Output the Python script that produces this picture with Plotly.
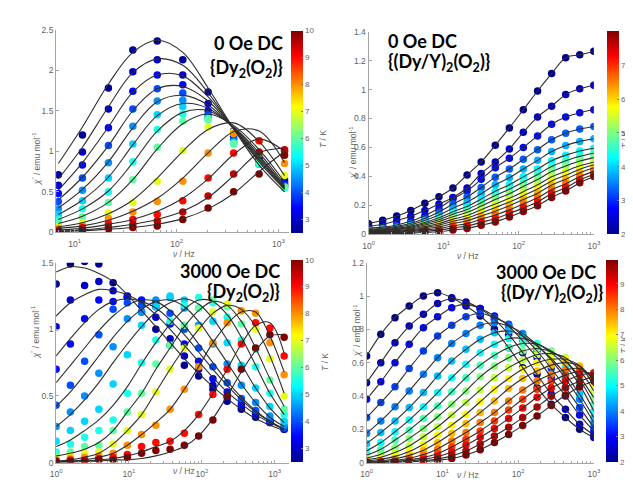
import plotly.graph_objects as go

W, H = 633, 486

# ---------------- Panel A: 0 Oe DC, {Dy2(O2)} ----------------
freq_a = [6.9, 11.9, 21.4, 37.2, 64.6, 115, 204, 363, 646, 1148]
temp_a = [2.6, 3.0, 3.5, 4.0, 4.5, 5.0, 5.5, 6.0, 7.0, 8.0, 9.0, 9.5, 10.0]
chi_a = [
    [0.71, 1.20, 1.78, 2.25, 2.36, 2.13, 1.73, 1.25, 0.93, 0.65],
    [0.58, 0.99, 1.52, 1.98, 2.13, 1.94, 1.59, 1.22, 0.90, 0.62],
    [0.48, 0.83, 1.29, 1.74, 1.94, 1.82, 1.50, 1.18, 0.88, 0.60],
    [0.38, 0.67, 1.07, 1.52, 1.77, 1.72, 1.45, 1.15, 0.86, 0.58],
    [0.29, 0.52, 0.86, 1.31, 1.62, 1.63, 1.42, 1.12, 0.84, 0.56],
    [0.22, 0.39, 0.67, 1.09, 1.45, 1.55, 1.40, 1.10, 0.84, 0.55],
    [0.16, 0.29, 0.50, 0.87, 1.27, 1.46, 1.40, 1.09, 0.85, 0.55],
    [0.11, 0.19, 0.37, 0.65, 1.05, 1.37, 1.39, 1.10, 0.87, 0.56],
    [0.07, 0.12, 0.24, 0.37, 0.63, 1.01, 1.30, 1.24, 0.97, 0.70],
    [0.05, 0.08, 0.17, 0.25, 0.38, 0.63, 0.98, 1.22, 1.13, 0.85],
    [0.03, 0.06, 0.11, 0.16, 0.22, 0.39, 0.67, 0.98, 1.13, 1.00],
    [0.02, 0.03, 0.07, 0.10, 0.14, 0.25, 0.45, 0.72, 0.99, 1.02],
    [0.01, 0.02, 0.04, 0.06, 0.08, 0.16, 0.30, 0.50, 0.72, 0.95],
]
fit_a = [
    [0.85, 1.30, 1.83, 2.22, 2.37, 2.22, 1.78, 1.28, 0.83, 0.50],
    [0.66, 1.05, 1.55, 1.97, 2.14, 2.06, 1.72, 1.28, 0.87, 0.53],
    [0.52, 0.86, 1.30, 1.73, 1.94, 1.93, 1.67, 1.28, 0.89, 0.54],
    [0.40, 0.68, 1.07, 1.50, 1.77, 1.80, 1.62, 1.28, 0.91, 0.55],
    [0.30, 0.53, 0.87, 1.29, 1.61, 1.69, 1.57, 1.28, 0.93, 0.56],
    [0.22, 0.40, 0.68, 1.08, 1.44, 1.59, 1.53, 1.29, 0.95, 0.57],
    [0.16, 0.29, 0.51, 0.86, 1.25, 1.48, 1.50, 1.30, 0.98, 0.59],
    [0.11, 0.20, 0.37, 0.65, 1.03, 1.34, 1.46, 1.32, 1.02, 0.62],
    [0.07, 0.12, 0.23, 0.40, 0.67, 1.00, 1.27, 1.35, 1.12, 0.70],
    [0.05, 0.08, 0.15, 0.26, 0.42, 0.67, 0.98, 1.24, 1.25, 0.86],
    [0.03, 0.05, 0.10, 0.16, 0.26, 0.42, 0.66, 0.96, 1.15, 1.00],
    [0.02, 0.03, 0.06, 0.10, 0.16, 0.26, 0.43, 0.70, 0.98, 1.04],
    [0.01, 0.02, 0.04, 0.06, 0.10, 0.17, 0.29, 0.48, 0.75, 1.00],
]

# ---------------- Panel B: 0 Oe DC, {(Dy/Y)2(O2)} ----------------
freq_b = [1, 1.54, 2.37, 3.65, 5.62, 8.66, 13.3, 20.5, 31.6, 48.7, 75.0,
          115, 178, 274, 422, 649, 1000]
temp_b = [2.0, 2.4, 2.8, 3.3, 3.8, 4.2, 4.6, 5.0, 5.4, 5.8, 6.2, 6.6, 7.2, 7.9]
chi_b = [
    [0.074, 0.097, 0.126, 0.165, 0.214, 0.26, 0.32, 0.41, 0.50, 0.615, 0.735, 0.86, 0.99, 1.11, 1.22, 1.24, 1.265],
    [0.055, 0.07, 0.095, 0.125, 0.165, 0.21, 0.255, 0.32, 0.42, 0.50, 0.59, 0.705, 0.81, 0.885, 0.965, 1.005, 1.03],
    [0.042, 0.05, 0.065, 0.09, 0.13, 0.18, 0.245, 0.30, 0.38, 0.46, 0.525, 0.60, 0.68, 0.76, 0.81, 0.84, 0.86],
    [0.036, 0.042, 0.056, 0.077, 0.110, 0.154, 0.209, 0.258, 0.324, 0.395, 0.451, 0.518, 0.585, 0.653, 0.698, 0.727, 0.745],
    [0.031, 0.037, 0.048, 0.066, 0.095, 0.133, 0.181, 0.222, 0.281, 0.342, 0.391, 0.451, 0.511, 0.572, 0.614, 0.642, 0.66],
    [0.027, 0.032, 0.041, 0.057, 0.082, 0.114, 0.156, 0.192, 0.244, 0.298, 0.343, 0.397, 0.451, 0.508, 0.547, 0.576, 0.595],
    [0.024, 0.028, 0.036, 0.050, 0.073, 0.101, 0.139, 0.171, 0.219, 0.268, 0.311, 0.362, 0.413, 0.469, 0.508, 0.539, 0.56],
    [0.021, 0.024, 0.032, 0.044, 0.064, 0.089, 0.122, 0.152, 0.195, 0.240, 0.281, 0.330, 0.378, 0.434, 0.472, 0.506, 0.53],
    [0.018, 0.021, 0.027, 0.037, 0.054, 0.075, 0.105, 0.130, 0.170, 0.210, 0.249, 0.295, 0.342, 0.397, 0.436, 0.473, 0.50],
    [0.015, 0.017, 0.022, 0.031, 0.046, 0.064, 0.090, 0.112, 0.148, 0.185, 0.223, 0.267, 0.313, 0.369, 0.408, 0.449, 0.48],
    [0.012, 0.014, 0.017, 0.025, 0.038, 0.052, 0.075, 0.094, 0.127, 0.160, 0.197, 0.240, 0.284, 0.340, 0.381, 0.426, 0.46],
    [0.010, 0.011, 0.013, 0.019, 0.030, 0.040, 0.059, 0.074, 0.104, 0.134, 0.169, 0.210, 0.252, 0.308, 0.350, 0.398, 0.435],
    [0.007, 0.008, 0.009, 0.013, 0.022, 0.029, 0.044, 0.057, 0.083, 0.109, 0.144, 0.183, 0.224, 0.281, 0.323, 0.375, 0.415],
    [0.005, 0.005, 0.005, 0.007, 0.014, 0.018, 0.030, 0.040, 0.063, 0.086, 0.120, 0.158, 0.198, 0.255, 0.300, 0.356, 0.40],
]

# ---------------- Panel C: 3000 Oe DC, {Dy2(O2)} ----------------
freq_c = [1, 1.57, 2.46, 3.86, 6.06, 9.5, 14.9, 23.4, 36.7, 57.6, 90.4,
          142, 223, 349, 548, 860, 1350]
temp_c = [2.5, 3.0, 3.5, 4.0, 4.5, 5.0, 5.5, 6.0, 7.0, 8.0, 9.0, 10.0]
chi_c = [
    [1.34, 1.49, 1.51, 1.49, 1.35, 1.24, 1.13, 1.00, 0.88, 0.73, 0.65, 0.55, 0.46, 0.40, 0.34, 0.30, 0.25],
    [1.02, 1.22, 1.33, 1.36, 1.29, 1.25, 1.18, 1.09, 0.93, 0.80, 0.70, 0.58, 0.49, 0.42, 0.36, 0.30, 0.25],
    [0.70, 0.89, 1.08, 1.22, 1.21, 1.24, 1.22, 1.17, 1.04, 0.89, 0.76, 0.63, 0.53, 0.44, 0.37, 0.31, 0.26],
    [0.43, 0.58, 0.76, 0.96, 1.15, 1.20, 1.18, 1.20, 1.12, 1.00, 0.86, 0.72, 0.60, 0.48, 0.39, 0.32, 0.26],
    [0.27, 0.38, 0.50, 0.67, 0.87, 1.08, 1.13, 1.22, 1.24, 1.16, 1.03, 0.89, 0.74, 0.58, 0.45, 0.35, 0.28],
    [0.16, 0.24, 0.31, 0.40, 0.59, 0.81, 1.03, 1.17, 1.25, 1.22, 1.16, 1.06, 0.90, 0.73, 0.56, 0.42, 0.31],
    [0.08, 0.14, 0.19, 0.24, 0.32, 0.52, 0.75, 0.92, 1.06, 1.18, 1.24, 1.20, 1.09, 0.92, 0.72, 0.52, 0.36],
    [0.05, 0.08, 0.12, 0.13, 0.24, 0.38, 0.52, 0.74, 0.88, 1.03, 1.16, 1.22, 1.17, 1.04, 0.85, 0.62, 0.40],
    [0.03, 0.05, 0.07, 0.08, 0.14, 0.24, 0.36, 0.53, 0.70, 0.86, 1.01, 1.13, 1.19, 1.14, 1.00, 0.78, 0.50],
    [0.02, 0.03, 0.04, 0.05, 0.07, 0.13, 0.21, 0.28, 0.40, 0.55, 0.72, 0.90, 1.05, 1.14, 1.12, 0.90, 0.66],
    [0.01, 0.02, 0.02, 0.03, 0.04, 0.06, 0.12, 0.15, 0.16, 0.22, 0.36, 0.51, 0.70, 0.89, 1.05, 1.01, 0.80],
    [0.01, 0.01, 0.01, 0.02, 0.02, 0.04, 0.07, 0.09, 0.10, 0.13, 0.20, 0.32, 0.50, 0.70, 0.86, 0.96, 0.94],
]
fit_c = [
    [1.43, 1.47, 1.46, 1.42, 1.36, 1.26, 1.14, 1.02, 0.90, 0.78, 0.67, 0.57, 0.48, 0.40, 0.33, 0.28, 0.24],
    [1.10, 1.20, 1.26, 1.30, 1.29, 1.26, 1.20, 1.11, 1.00, 0.88, 0.76, 0.64, 0.53, 0.44, 0.36, 0.30, 0.25],
    [0.80, 0.93, 1.05, 1.15, 1.21, 1.23, 1.21, 1.16, 1.07, 0.96, 0.83, 0.70, 0.58, 0.47, 0.38, 0.31, 0.25],
    [0.60, 0.73, 0.86, 0.99, 1.10, 1.18, 1.22, 1.21, 1.14, 1.03, 0.89, 0.75, 0.61, 0.49, 0.39, 0.31, 0.25],
    [0.42, 0.53, 0.66, 0.80, 0.94, 1.06, 1.15, 1.21, 1.22, 1.17, 1.06, 0.91, 0.75, 0.59, 0.45, 0.34, 0.27],
    [0.27, 0.36, 0.47, 0.60, 0.75, 0.89, 1.02, 1.13, 1.20, 1.23, 1.19, 1.08, 0.92, 0.74, 0.56, 0.41, 0.30],
    [0.12, 0.17, 0.24, 0.32, 0.43, 0.57, 0.74, 0.90, 1.04, 1.15, 1.22, 1.21, 1.11, 0.94, 0.73, 0.52, 0.36],
    [0.05, 0.07, 0.10, 0.15, 0.24, 0.38, 0.52, 0.70, 0.86, 1.02, 1.14, 1.21, 1.18, 1.06, 0.86, 0.63, 0.42],
    [0.01, 0.02, 0.04, 0.07, 0.14, 0.24, 0.36, 0.53, 0.70, 0.86, 1.00, 1.12, 1.18, 1.15, 1.02, 0.80, 0.52],
    [0.01, 0.01, 0.02, 0.04, 0.07, 0.13, 0.21, 0.30, 0.40, 0.55, 0.72, 0.90, 1.04, 1.13, 1.13, 0.95, 0.68],
    [0.00, 0.01, 0.01, 0.02, 0.03, 0.05, 0.08, 0.12, 0.16, 0.24, 0.36, 0.52, 0.70, 0.89, 1.03, 1.05, 0.82],
    [0.00, 0.00, 0.01, 0.01, 0.02, 0.02, 0.03, 0.05, 0.08, 0.12, 0.20, 0.33, 0.50, 0.68, 0.84, 0.95, 0.96],
]

# ---------------- Panel D: 3000 Oe DC, {(Dy/Y)2(O2)} ----------------
freq_d = [1, 1.54, 2.37, 3.65, 5.62, 8.66, 13.3, 20.5, 31.6, 48.7, 75.0,
          115, 178, 274, 422, 649, 1000]
temp_d = [2.0, 2.5, 3.0, 3.5, 4.0, 4.5, 5.0, 5.5, 6.0, 6.5, 7.0, 7.5, 8.0,
          8.5, 9.0, 9.5, 10.0]
chi_d = [
    [0.64, 0.77, 0.87, 0.94, 1.00, 1.02, 0.99, 0.94, 0.88, 0.80, 0.69, 0.57, 0.45, 0.35, 0.27, 0.20, 0.15],
    [0.48, 0.60, 0.72, 0.82, 0.89, 0.955, 0.985, 0.965, 0.925, 0.86, 0.77, 0.66, 0.53, 0.41, 0.32, 0.23, 0.165],
    [0.38, 0.485, 0.60, 0.71, 0.81, 0.875, 0.93, 0.95, 0.925, 0.88, 0.82, 0.73, 0.63, 0.51, 0.40, 0.285, 0.19],
    [0.27, 0.36, 0.455, 0.565, 0.67, 0.76, 0.825, 0.875, 0.895, 0.87, 0.83, 0.76, 0.67, 0.565, 0.45, 0.33, 0.21],
    [0.175, 0.25, 0.335, 0.43, 0.53, 0.63, 0.715, 0.775, 0.825, 0.84, 0.82, 0.775, 0.705, 0.615, 0.505, 0.38, 0.24],
    [0.115, 0.18, 0.25, 0.33, 0.42, 0.52, 0.61, 0.68, 0.74, 0.78, 0.79, 0.76, 0.70, 0.625, 0.53, 0.41, 0.27],
    [0.07, 0.12, 0.185, 0.255, 0.335, 0.42, 0.51, 0.59, 0.66, 0.71, 0.745, 0.745, 0.715, 0.66, 0.58, 0.465, 0.31],
    [0.045, 0.08, 0.135, 0.195, 0.265, 0.34, 0.425, 0.51, 0.585, 0.645, 0.69, 0.715, 0.71, 0.67, 0.61, 0.50, 0.35],
    [0.027, 0.05, 0.09, 0.145, 0.205, 0.275, 0.35, 0.43, 0.515, 0.58, 0.63, 0.67, 0.685, 0.665, 0.61, 0.515, 0.39],
    [0.017, 0.032, 0.06, 0.10, 0.155, 0.215, 0.285, 0.36, 0.435, 0.51, 0.57, 0.615, 0.648, 0.654, 0.63, 0.555, 0.43],
    [0.01, 0.02, 0.037, 0.066, 0.11, 0.165, 0.225, 0.29, 0.365, 0.44, 0.505, 0.56, 0.60, 0.62, 0.62, 0.58, 0.46],
    [0.006, 0.011, 0.023, 0.043, 0.074, 0.12, 0.175, 0.235, 0.30, 0.37, 0.445, 0.505, 0.55, 0.585, 0.60, 0.58, 0.49],
    [0.004, 0.007, 0.014, 0.026, 0.048, 0.082, 0.13, 0.18, 0.24, 0.30, 0.37, 0.435, 0.49, 0.53, 0.557, 0.564, 0.505],
    [0.003, 0.004, 0.008, 0.017, 0.03, 0.055, 0.094, 0.14, 0.19, 0.25, 0.315, 0.38, 0.44, 0.487, 0.525, 0.547, 0.53],
    [0.002, 0.003, 0.005, 0.01, 0.019, 0.036, 0.064, 0.105, 0.152, 0.205, 0.264, 0.327, 0.392, 0.448, 0.489, 0.524, 0.539],
    [0.001, 0.002, 0.003, 0.005, 0.011, 0.021, 0.04, 0.069, 0.111, 0.159, 0.212, 0.27, 0.334, 0.398, 0.45, 0.488, 0.519],
    [0.001, 0.001, 0.002, 0.004, 0.006, 0.013, 0.024, 0.045, 0.077, 0.12, 0.168, 0.222, 0.28, 0.343, 0.404, 0.454, 0.49],
]

# ---------------- text ----------------
field_labels = ["0 Oe DC", "0 Oe DC", "3000 Oe DC", "3000 Oe DC"]
compound_labels = ["{Dy<sub>2</sub>(O<sub>2</sub>)}", "{(Dy/Y)<sub>2</sub>(O<sub>2</sub>)}",
                   "{Dy<sub>2</sub>(O<sub>2</sub>)}", "{(Dy/Y)<sub>2</sub>(O<sub>2</sub>)}"]
decade_vals = [1, 10, 100, 1000]
decade_text = ["10<sup>0</sup>", "10<sup>1</sup>", "10<sup>2</sup>", "10<sup>3</sup>"]
y_label = "<i>χ</i><sup>″</sup> / emu mol<sup>-1</sup>"
x_label = "<i>ν</i> / Hz"
cb_label = "<i>T</i> / K"

# ---------------- styling / layout ----------------
jet = [[0.0, "rgb(0,0,143)"], [0.125, "rgb(0,0,255)"], [0.375, "rgb(0,255,255)"],
       [0.625, "rgb(255,255,0)"], [0.875, "rgb(255,0,0)"], [1.0, "rgb(128,0,0)"]]
LINE = dict(color="rgb(45,45,45)", width=1.1, shape="spline")
TICKC = "rgb(95,95,95)"
AXC = "rgb(165,165,165)"


def fx(p):
    return p / W


def fy(p):
    return 1 - p / H


panels = [
    dict(freq=freq_a, temps=temp_a, chi=chi_a, fit=fit_a, x0=43, x1=281, y0=17, y1=224,
         xr=[0.817, 3.106], yr=[0, 2.5], dy=0.5, cmin=2.5, cmax=10, cticks=list(range(3, 11)),
         cbx=283, cby=(18, 224)),
    dict(freq=freq_b, temps=temp_b, chi=chi_b, fit=None, x0=362, x1=592, y0=19, y1=226,
         xr=[0, 3], yr=[0, 1.4], dy=0.2, cmin=2, cmax=8, cticks=list(range(2, 8)),
         cbx=605, cby=(19, 226)),
    dict(freq=freq_c, temps=temp_c, chi=chi_c, fit=fit_c, x0=43, x1=281, y0=255, y1=459,
         xr=[0, 3.2], yr=[0, 1.5], dy=0.5, cmin=2.5, cmax=10, cticks=list(range(3, 11)),
         cbx=283, cby=(252, 458)),
    dict(freq=freq_d, temps=temp_d, chi=chi_d, fit=None, x0=360, x1=592, y0=255, y1=459,
         xr=[0, 3], yr=[0, 1.2], dy=0.2, cmin=2, cmax=9.95, cticks=list(range(2, 10)),
         cbx=604, cby=(252, 458)),
]

fig = go.Figure()
layout = dict(width=W, height=H, margin=dict(l=0, r=0, t=0, b=0),
              paper_bgcolor="white", plot_bgcolor="white", showlegend=False,
              font=dict(family="Liberation Sans, Arial, sans-serif", size=9, color=TICKC))

for i, p in enumerate(panels):
    n = "" if i == 0 else str(i + 1)
    xa, ya, ca = "x" + n, "y" + n, "coloraxis" + n
    for T, vals in zip(p["temps"], p["chi"]):
        fig.add_trace(go.Scatter(x=p["freq"], y=vals, mode="markers", xaxis=xa, yaxis=ya,
                                 marker=dict(size=7.5, color=[T] * len(vals), coloraxis=ca,
                                             line=dict(width=0)),
                                 hoverinfo="skip"))
    curves = p["fit"] if p["fit"] is not None else p["chi"]
    for vals in curves:
        fig.add_trace(go.Scatter(x=p["freq"], y=vals, mode="lines", xaxis=xa, yaxis=ya,
                                 line=LINE, hoverinfo="skip"))
    layout["xaxis" + n] = dict(
        type="log", range=p["xr"], domain=[fx(p["x0"]), fx(p["x1"])], anchor=ya,
        tickmode="array", tickvals=decade_vals, ticktext=decade_text,
        showgrid=False, zeroline=False, ticklabelstandoff=3,
        showline=True, linecolor=AXC, linewidth=1, ticks="inside", ticklen=3,
        tickcolor=AXC, tickfont=dict(size=8.5, color=TICKC),
        minor=dict(ticks="inside", ticklen=2, tickcolor=AXC, dtick="D1"))
    layout["yaxis" + n] = dict(
        range=p["yr"], domain=[fy(p["y1"]), fy(p["y0"])], anchor=xa, dtick=p["dy"],
        showgrid=False, zeroline=False, showline=True, linecolor=AXC, linewidth=1,
        ticks="inside", ticklen=3, tickcolor=AXC, tickfont=dict(size=8.5, color=TICKC))
    c0, c1 = p["cby"]
    layout[ca] = dict(
        cmin=p["cmin"], cmax=p["cmax"], colorscale=jet,
        colorbar=dict(x=fx(p["cbx"]), xanchor="left", y=fy((c0 + c1) / 2), yanchor="middle",
                      len=(c1 - c0) / H, lenmode="fraction", thickness=12,
                      thicknessmode="pixels", outlinewidth=0, xpad=0, ypad=0,
                      tickvals=p["cticks"], ticks="inside", ticklen=2, tickcolor="rgb(120,120,120)",
                      tickfont=dict(size=8, color=TICKC)))

ann = []
TF = dict(family="Lato, Open Sans, sans-serif", size=18, color="black")
title_pos = [  # (x_anchor_px, anchor, y1, x2, y2)
    (277, "right", 31, 277, 57),
    (380, "left", 29, 380, 51),
    (274, "right", 263, 274, 285),
    (596, "right", 264, 603, 286),
]
for (xp, anc, y1p, x2p, y2p), f, c in zip(title_pos, field_labels, compound_labels):
    ann.append(dict(x=fx(xp), y=fy(y1p), xref="paper", yref="paper", text="<b>%s</b>" % f,
                    xanchor=anc, yanchor="middle", showarrow=False, font=TF))
    ann.append(dict(x=fx(x2p), y=fy(y2p), xref="paper", yref="paper", text="<b>%s</b>" % c,
                    xanchor=anc, yanchor="middle", showarrow=False, font=TF))

SF = dict(family="Liberation Sans, Arial, sans-serif", size=8.5, color=TICKC)
for (xp, yp) in [(15, 120), (346, 113), (14, 355), (350, 353)]:
    ann.append(dict(x=fx(xp), y=fy(yp), xref="paper", yref="paper", text=y_label,
                    textangle=-90, showarrow=False, font=SF))
for (xp, yp) in [(160, 246), (477, 248), (160, 475), (477, 479)]:
    ann.append(dict(x=fx(xp), y=fy(yp), xref="paper", yref="paper", text=x_label,
                    showarrow=False, font=SF))
for (xp, yp) in [(315, 118), (631, 118), (318, 367), (630, 350)]:
    ann.append(dict(x=fx(xp), y=fy(yp), xref="paper", yref="paper", text=cb_label,
                    textangle=-90, showarrow=False, font=SF))

layout["annotations"] = ann
fig.update_layout(**layout)
fig.write_html("out.html")
